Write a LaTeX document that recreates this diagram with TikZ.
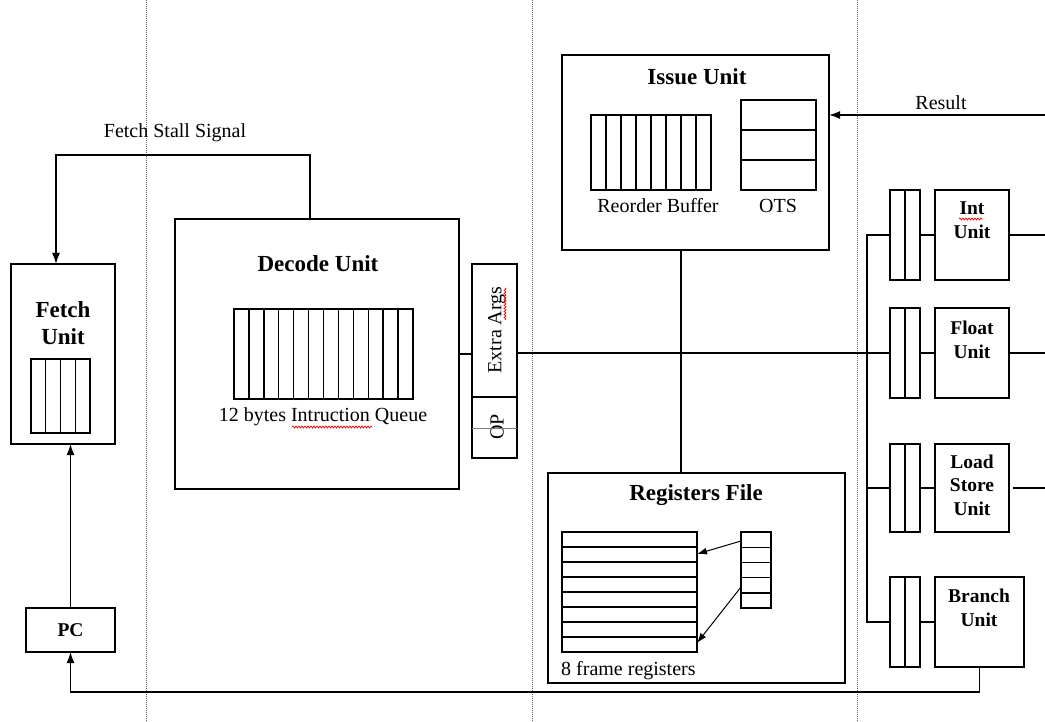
\documentclass[tikz,border=0pt]{standalone}
\usepackage{fontspec}
\setmainfont{Liberation Serif}
\usetikzlibrary{arrows.meta,decorations.pathmorphing,calc}

\begin{document}
\begin{tikzpicture}[x=1pt,y=-1pt,
  box/.style={draw,line width=1.5pt,inner sep=0pt,outer sep=0pt,anchor=north west},
  cell/.style={line width=1.4pt},
  wire/.style={line width=1.5pt},
  arr/.style={wire,-{Latex[length=11pt,width=8pt]}},
  thinarr/.style={line width=1pt,-{Latex[length=10pt,width=7pt]}},
  sep/.style={gray!80!black,line width=1pt,dash pattern=on 1pt off 1pt},
  lbl/.style={font=\fontsize{20}{22}\selectfont,inner sep=0pt},
  head/.style={font=\bfseries\fontsize{23}{27}\selectfont,inner sep=0pt,align=center},
  uhead/.style={font=\bfseries\fontsize{19.5}{23.5}\selectfont,inner sep=0pt,align=center},
  squig/.style={red,line width=0.7pt,decorate,decoration={snake,amplitude=1pt,segment length=3pt}}
]
\useasboundingbox (0,0) rectangle (1045,722);

% stage separators
\foreach \sx in {146,532,857}
  \draw[sep] (\sx,0) -- (\sx,722);

% ---------------- Fetch stage ----------------
\node[box,minimum width=104pt,minimum height=180pt] (fetch) at (11,264) {};
\node[head] (fetchT) at (63,323) {Fetch\\Unit};
\node[box,minimum width=59pt,minimum height=74pt] (fq) at (31,359) {};
\foreach \i in {1,2,3}
  \draw[cell] ($(fq.north west)!\i/4!(fq.north east)$) -- ($(fq.south west)!\i/4!(fq.south east)$);

\node[box,minimum width=89pt,minimum height=44pt] (pc) at (26,608) {};
\node[uhead] (pcT) at (pc.center) {PC};
\draw[arr] (pc.north) -- (pc.north |- fetch.south);

% ---------------- Decode stage ----------------
\node[box,minimum width=284pt,minimum height=270pt] (decode) at (175,219) {};
\node[head] (decodeT) at (318,264) {Decode Unit};
\node[box,minimum width=179pt,minimum height=90pt] (dq) at (234,309) {};
\foreach \i in {1,...,11}
  \draw[cell] ($(dq.north west)!\i/12!(dq.north east)$) -- ($(dq.south west)!\i/12!(dq.south east)$);
\node[lbl] (dqT) at (323,417) {12 bytes Intruction Queue};
\draw[squig] (292,427) -- (372,427);

% fetch stall feedback
\coordinate (stallTop) at (310,155);
\coordinate (stallCorner) at (56,155);
\draw[arr] (stallTop |- decode.north) -- (stallTop) -- (stallCorner) -- (stallCorner |- fetch.north);
\node[lbl] (stallT) at (175,133) {Fetch Stall Signal};

% operand latch
\node[box,minimum width=45pt,minimum height=194pt] (extra) at (472,264) {};
\draw[cell] ($(extra.north west)+(0,133)$) -- ($(extra.north east)+(0,133)$);
\node[lbl,rotate=90] (extraT) at (497,330) {Extra Args};
\node[lbl,rotate=90] (opT) at (497,427) {OP};
\draw[gray,line width=0.6pt] ($(extra.north west)+(0,164)$) -- ($(extra.north east)+(0,164)$);
\draw[squig] (505,288) -- (505,320);
\draw[wire] (decode.east) -- (decode.east -| extra.west);

% ---------------- Issue stage ----------------
\node[box,minimum width=267pt,minimum height=195pt] (issue) at (562,55) {};
\node[head] (issueT) at (697,77) {Issue Unit};
\node[box,minimum width=120pt,minimum height=75pt] (rob) at (591,115) {};
\foreach \i in {1,...,7}
  \draw[cell] ($(rob.north west)!\i/8!(rob.north east)$) -- ($(rob.south west)!\i/8!(rob.south east)$);
\node[lbl] (robT) at (658,206) {Reorder Buffer};
\node[box,minimum width=75pt,minimum height=90pt] (ots) at (741,100) {};
\foreach \i in {1,2}
  \draw[cell] ($(ots.north west)!\i/3!(ots.south west)$) -- ($(ots.north east)!\i/3!(ots.south east)$);
\node[lbl] (otsT) at (778,206) {OTS};

\coordinate (resIn) at (1045,115);
\draw[arr] (resIn) -- (resIn -| issue.east);
\node[lbl] (resT) at (941,103) {Result};

% register file
\node[box,minimum width=297pt,minimum height=210pt] (regs) at (548,473) {};
\node[head] (regsT) at (696,495) {Registers File};
\node[box,minimum width=135pt,minimum height=120pt] (rs) at (562,532) {};
\foreach \i in {1,...,7}
  \draw[cell] ($(rs.north west)!\i/8!(rs.south west)$) -- ($(rs.north east)!\i/8!(rs.south east)$);
\node[box,minimum width=30pt,minimum height=76pt] (wp) at (741,532) {};
\foreach \i in {1,...,4}
  \draw[cell] ($(wp.north west)!\i/5!(wp.south west)$) -- ($(wp.north east)!\i/5!(wp.south east)$);
\draw[thinarr] ($(wp.north west)+(0,9)$) -- ($(rs.north east)+(0,22)$);
\draw[thinarr] ($(wp.north west)+(0,55)$) -- ($(rs.north east)+(0,111)$);
\node[lbl,anchor=west] (rsT) at (561,671) {8 frame registers};

\coordinate (tap) at (681,0);
\draw[wire] (tap |- issue.south) -- (tap |- regs.north);

% ---------------- Execute stage ----------------
\node[box,minimum width=30pt,minimum height=90pt] (ib) at (890,190) {};
\node[box,minimum width=74pt,minimum height=90pt] (iu) at (935,190) {};
\node[box,minimum width=30pt,minimum height=90pt] (fb) at (890,308) {};
\node[box,minimum width=74pt,minimum height=90pt] (fu) at (935,308) {};
\node[box,minimum width=30pt,minimum height=88pt] (lb) at (890,444) {};
\node[box,minimum width=74pt,minimum height=88pt] (lu) at (935,444) {};
\node[box,minimum width=30pt,minimum height=90pt] (bb) at (890,577) {};
\node[box,minimum width=89pt,minimum height=90pt] (bu) at (935,577) {};
\foreach \b in {ib,fb,lb,bb}
  \draw[cell] (\b.north) -- (\b.south);

\node[uhead] (iuT) at (972,220) {Int\\Unit};
\draw[squig] (959,219) -- (983,219);
\node[uhead] (fuT) at (972,340) {Float\\Unit};
\node[uhead] (luT) at (972,485) {Load\\Store\\Unit};
\node[uhead] (buT) at (979,608) {Branch\\Unit};

\foreach \b/\u in {ib/iu,fb/fu,lb/lu,bb/bu}
  \draw[wire] (\b.east) -- (\u.west);

% dispatch bus
\coordinate (busX) at (867,0);
\coordinate (rEdge) at (1045,0);
\draw[wire] (extra.east |- fb.west) -- (fb.west);
\draw[wire] (ib.west) -- (busX |- ib.west) -- (busX |- bb.west) -- (bb.west);
\draw[wire] (busX |- lb.west) -- (lb.west);

% results leaving the units
\draw[wire] (iu.east) -- (iu.east -| rEdge);
\draw[wire] (fu.east) -- (fu.east -| rEdge);
\draw[wire] ([xshift=4pt]lu.east) -- (lu.east -| rEdge);

% branch target back to the program counter
\draw[arr] (bu.south) |- ($(pc.south)+(0,40)$) -- (pc.south);
\end{tikzpicture}
\end{document}
